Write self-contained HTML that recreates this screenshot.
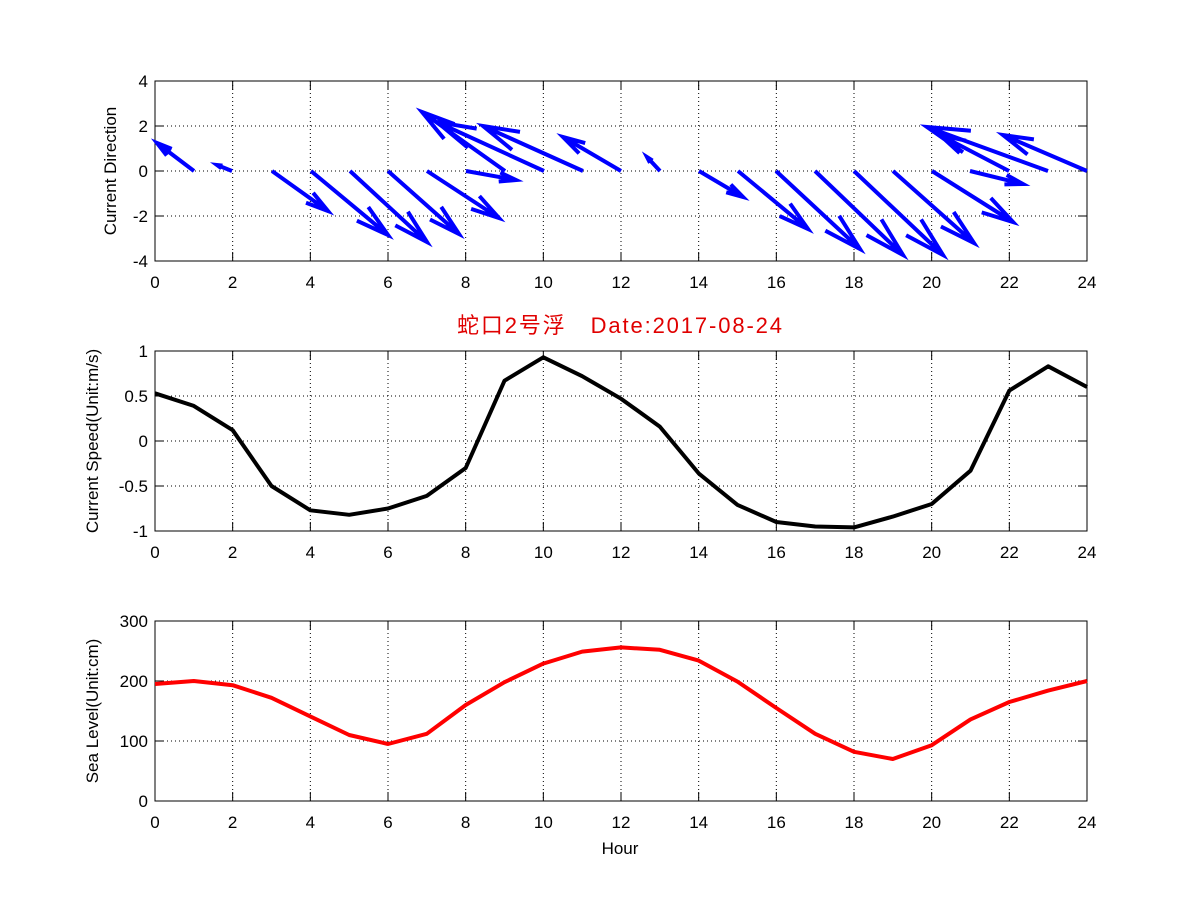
<!DOCTYPE html>
<html><head><meta charset="utf-8"><style>
body{margin:0;background:#fff}
svg{display:block}
text{font-family:"Liberation Sans","Noto Sans CJK SC",sans-serif;font-size:17px;fill:#000}
</style></head><body>
<svg id="s" width="1201" height="901" xmlns="http://www.w3.org/2000/svg"></svg>
<script>
const s=document.getElementById('s');let h='';
const X0=155,X1=1087,dx=(X1-X0)/24;
function axes(top,bot,yt,ylab,ymin,ymax,xl){
 const sy=v=>bot-(v-ymin)/(ymax-ymin)*(bot-top);
 for(let i=2;i<24;i+=2){const x=X0+i*dx;h+=`<line x1="${x}" y1="${top}" x2="${x}" y2="${bot}" stroke="#000" stroke-dasharray="1,3"/>`;}
 yt.forEach(v=>{const y=sy(v);if(v!=ymin&&v!=ymax)h+=`<line x1="${X0}" y1="${y}" x2="${X1}" y2="${y}" stroke="#000" stroke-dasharray="1,3"/>`;
  h+=`<line x1="${X0}" y1="${y}" x2="${X0+9}" y2="${y}" stroke="#000"/><line x1="${X1}" y1="${y}" x2="${X1-9}" y2="${y}" stroke="#000"/>`;
  h+=`<text x="${X0-7}" y="${y+6}" text-anchor="end">${v}</text>`;});
 for(let i=0;i<=24;i+=2){const x=X0+i*dx;h+=`<line x1="${x}" y1="${bot}" x2="${x}" y2="${bot-9}" stroke="#000"/><line x1="${x}" y1="${top}" x2="${x}" y2="${top+9}" stroke="#000"/><text x="${x}" y="${bot+27}" text-anchor="middle">${i}</text>`;}
 h+=`<rect x="${X0}" y="${top}" width="${X1-X0}" height="${bot-top}" fill="none" stroke="#000"/>`;
 const cy=(top+bot)/2;h+=`<text transform="translate(${xl},${cy}) rotate(-90)" text-anchor="middle">${ylab}</text>`;
 return sy;
}
axes(81,261,[-4,-2,0,2,4],'Current Direction',-4,4,116);
const tips=[[194,157,143],[232,217,165],[272,328,211],[311,388,235],[350,427,242],[388,459,234],[427,499,218],[466,516,180],[505,422,112],[544,437,122],[583,483,126],[621,563,137],[660,647,157],[699,743,197],[738,808,229],[776,860,249],[815,903,255],[854,943,255],[893,974,243],[932,1013,222],[970,1023,184],[1009,940,135],[1048,927,127],[1087,1003,135]];
let q='';
tips.forEach(([x0,tx,ty])=>{const y0=171,ux=tx-x0,uy=ty-y0,a=0.33,b=0.33*0.27;
 const b1x=tx-a*ux+b*(-uy)*1, b1y=ty-a*uy+b*ux;
 const b2x=tx-a*ux-b*(-uy), b2y=ty-a*uy-b*ux;
 q+=`M${x0} ${y0}L${tx} ${ty}M${b1x.toFixed(1)} ${b1y.toFixed(1)}L${tx} ${ty}L${b2x.toFixed(1)} ${b2y.toFixed(1)}`;});
h+=`<path d="${q}" stroke="#0000ff" stroke-width="4" fill="none" stroke-linejoin="miter"/>`;
h+=`<text x="457" y="333" textLength="325" lengthAdjust="spacing" style="fill:#e00000;font-size:22px">蛇口2号浮&#160;&#160;&#160;Date:2017-08-24</text>`;
const sp=axes(351,531,[-1,-0.5,0,0.5,1],'Current Speed(Unit:m/s)',-1,1,98);
const v=[0.53,0.39,0.12,-0.5,-0.77,-0.82,-0.75,-0.61,-0.3,0.67,0.93,0.72,0.47,0.16,-0.36,-0.71,-0.9,-0.95,-0.96,-0.84,-0.7,-0.33,0.56,0.83,0.6];
h+=`<polyline points="${v.map((a,i)=>(X0+i*dx).toFixed(1)+','+sp(a).toFixed(1)).join(' ')}" fill="none" stroke="#000" stroke-width="4" stroke-linejoin="round"/>`;
const sl=axes(621,801,[0,100,200,300],'Sea Level(Unit:cm)',0,300,98);
const w=[195,200,193,172,141,110,95,112,160,198,229,249,256,252,234,199,155,112,82,70,93,136,165,184,200];
h+=`<polyline points="${w.map((a,i)=>(X0+i*dx).toFixed(1)+','+sl(a).toFixed(1)).join(' ')}" fill="none" stroke="#ff0000" stroke-width="4" stroke-linejoin="round"/>`;
h+=`<text x="620" y="854" text-anchor="middle">Hour</text>`;
s.innerHTML=h;
</script>
</body></html>
